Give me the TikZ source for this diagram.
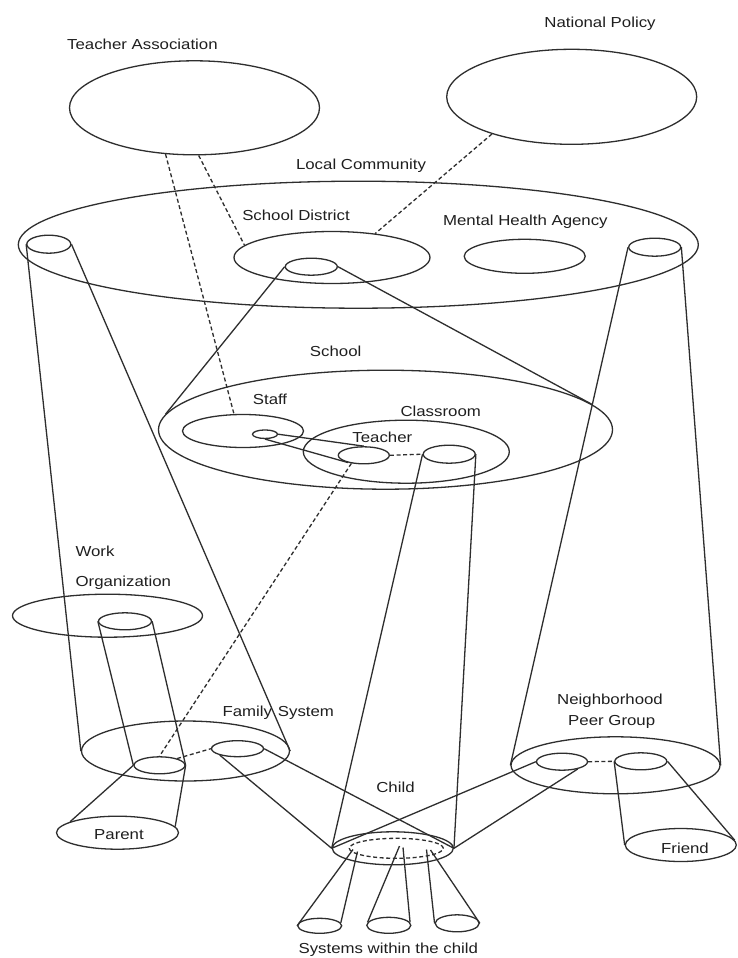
\documentclass[tikz,border=0pt]{standalone}
\usepackage{fontspec}
\setmainfont{Liberation Sans}
\usetikzlibrary{shapes.geometric}
\begin{document}
\begin{tikzpicture}[x=1pt,y=-1pt,
  ink/.style={draw=black!82, line width=1.3pt},
  ell/.style={ink, ellipse, inner sep=0pt},
  link/.style={ink},
  dlink/.style={ink, dash pattern=on 4pt off 2.6pt},
  lbl/.style={font=\fontsize{14.5}{16}\selectfont, text=black!88, inner sep=0pt, xscale=1.16}]

\path[use as bounding box, fill=white] (0,0) rectangle (737,958);

% ---- outer systems ----
\node[ell, minimum width=250pt, minimum height=94pt] (ta) at (194.5,107.8) {};
\node[ell, minimum width=250pt, minimum height=95pt] (np) at (571.7,96.8) {};
\node[ell, minimum width=680pt, minimum height=127pt] (lc) at (358.3,244.7) {};
\node[ell, minimum width=196pt, minimum height=52pt] (sd) at (332,257.5) {};
\node[ell, minimum width=52pt, minimum height=17pt] (sdc) at (311.3,266.7) {};
\node[ell, minimum width=121pt, minimum height=34pt] (mh) at (524.7,256.3) {};
\node[ell, minimum width=44pt, minimum height=18pt] (lcl) at (48.8,244.2) {};
\node[ell, minimum width=52pt, minimum height=18pt] (lcr) at (654.7,247.2) {};

% ---- school ----
\node[ell, minimum width=454pt, minimum height=119pt] (sch) at (385.5,429.7) {};
\node[ell, minimum width=121pt, minimum height=33pt] (st) at (243,431) {};
\node[ell, minimum width=25pt, minimum height=8.5pt] (stc) at (265,434.2) {};
\node[ell, minimum width=206pt, minimum height=63pt] (cl) at (406.3,451.7) {};
\node[ell, minimum width=51pt, minimum height=17pt] (te) at (363.8,455.3) {};
\node[ell, minimum width=52pt, minimum height=18pt] (clc) at (449.2,454.2) {};

% ---- work and family ----
\node[ell, minimum width=190pt, minimum height=43pt] (wo) at (107.5,615.7) {};
\node[ell, minimum width=53pt, minimum height=17pt] (woc) at (125,621.3) {};
\node[ell, minimum width=208pt, minimum height=60pt] (fs) at (185.5,751) {};
\node[ell, minimum width=51pt, minimum height=17pt] (pa) at (159.5,765.3) {};
\node[ell, minimum width=52pt, minimum height=16pt] (fsc) at (237.5,748.7) {};
\node[ell, minimum width=122pt, minimum height=33pt] (pe) at (117.5,832.7) {};

% ---- neighborhood ----
\node[ell, minimum width=209pt, minimum height=57pt] (nb) at (615.5,765.3) {};
\node[ell, minimum width=51pt, minimum height=17pt] (nbl) at (562,761.7) {};
\node[ell, minimum width=52pt, minimum height=17pt] (nbr) at (640.8,761.3) {};
\node[ell, minimum width=111pt, minimum height=33pt] (fr) at (680.8,845) {};

% ---- child ----
\node[ell, minimum width=121pt, minimum height=33pt] (ch) at (392.8,848.3) {};
\node[ell, dash pattern=on 4pt off 2.6pt, minimum width=94pt, minimum height=20pt] (chd) at (396.3,848.3) {};
\node[ell, minimum width=44pt, minimum height=15pt] (s1) at (319.7,925.8) {};
\node[ell, minimum width=44pt, minimum height=16pt] (s2) at (388.8,925.3) {};
\node[ell, minimum width=44pt, minimum height=17pt] (s3) at (457.2,923.3) {};
\coordinate (a1l) at (353,849.5);
\coordinate (a1r) at (357.5,851.5);
\coordinate (a2l) at (399.5,846);
\coordinate (a2r) at (403,847.5);
\coordinate (a3l) at (426.5,849.5);
\coordinate (a3r) at (430.5,850);

% ---- labels ----
\node[lbl] (tTA) at (142.4,44) {Teacher Association};
\node[lbl] (tNP) at (600,23.3) {National Policy};
\node[lbl] (tLC) at (361,165.7) {Local Community};
\node[lbl] (tSD) at (296,215) {School District};
\node[lbl] (tMH) at (525.4,221.7) {Mental Health Agency};
\node[lbl] (tSC) at (335.7,351.7) {School};
\node[lbl] (tST) at (270,399) {Staff};
\node[lbl] (tCL) at (440.7,411) {Classroom};
\node[lbl] (tTE) at (382.3,437.3) {Teacher};
\node[lbl] (tW1) at (95,551.7) {Work};
\node[lbl] (tW2) at (123.3,582.3) {Organization};
\node[lbl] (tFS) at (278.3,712.3) {Family\hspace{5pt}System};
\node[lbl] (tN1) at (610,701) {Neighborhood};
\node[lbl] (tN2) at (611.7,721.7) {Peer Group};
\node[lbl] (tPA) at (119,835) {Parent};
\node[lbl] (tFR) at (685,848.3) {Friend};
\node[lbl] (tCH) at (395.5,787.5) {Child};
\node[lbl] (tSY) at (388.3,949.3) {Systems within the child};

% ---- solid connectors ----
\draw[link] (lcl.west) -- (fs.west);
\draw[link] (lcl.east) -- (fs.east);
\draw[link] (lcr.west) -- (nb.west);
\draw[link] (lcr.east) -- (nb.east);
\draw[link] (sdc.west) -- (sch.176);
\draw[link] (sdc.east) -- (sch.7);
\draw[link] (stc.east) -- (te.north);
\draw[link] (stc.south) -- (te.205);
\draw[link] (clc.west) -- (ch.west);
\draw[link] (clc.east) -- (ch.east);
\draw[link] (fsc.east) -- (ch.east);
\draw[link] (fsc.200) -- (ch.west);
\draw[link] (nbl.west) -- (ch.west);
\draw[link] (nbl.-25) -- (ch.east);
\draw[link] (woc.west) -- (pa.west);
\draw[link] (woc.east) -- (pa.east);
\draw[link] (pa.west) -- (pe.167);
\draw[link] (pa.east) -- (pe.6);
\draw[link] (nbr.west) -- (fr.west);
\draw[link] (nbr.east) -- (fr.5);
\draw[link] (a1l) -- (s1.west);
\draw[link] (a1r) -- (s1.8);
\draw[link] (a2l) -- (s2.172);
\draw[link] (a2r) -- (s2.8);
\draw[link] (a3l) -- (s3.west);
\draw[link] (a3r) -- (s3.east);

% ---- dashed connectors ----
\draw[dlink] (ta.-122) -- (st.118);
\draw[dlink] (ta.-85) -- (sd.172);
\draw[dlink] (np.205) -- (sd.29);
\draw[dlink] (te.213) -- (pa.north);
\draw[dlink] (te.east) -- (clc.west);
\draw[dlink] (pa.21) -- (fsc.west);
\draw[dlink] (nbl.east) -- (nbr.west);
\end{tikzpicture}
\end{document}
